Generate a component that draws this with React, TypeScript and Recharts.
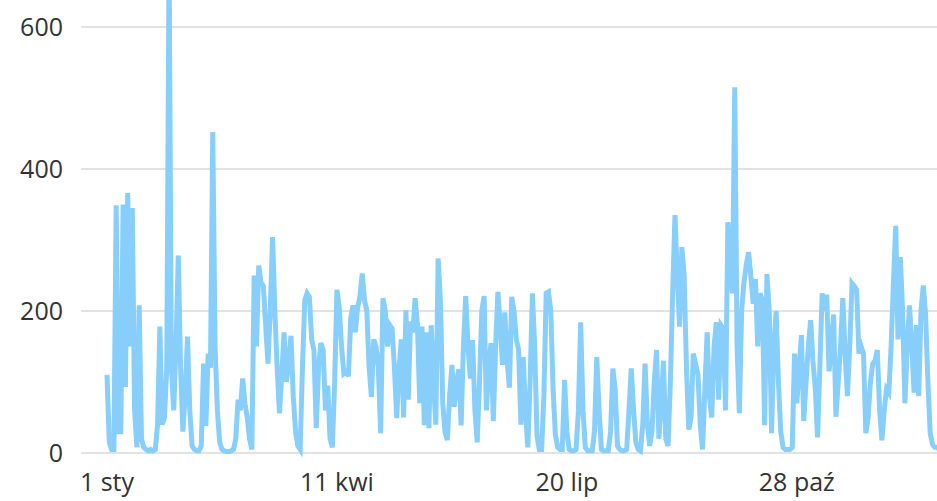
import { CartesianGrid, Line, LineChart, XAxis, YAxis } from "recharts";

const monthNames = ["sty", "lut", "mar", "kwi", "maj", "cze", "lip", "sie", "wrz", "paź", "lis", "gru"];
const monthDays = [31, 28, 31, 30, 31, 30, 31, 31, 30, 31, 30, 31];
const yTicks = [0, 200, 400, 600];

// daily values, 1 sty .. 31 gru
const values = [
  110, 15, 5, 5, 349, 30, 30, 350, 93, 366, 150, 345, 60, 8, 208, 20, 8, 5, 3, 5,
  3, 5, 40, 178, 40, 50, 120, 700, 120, 60, 150, 278, 120, 30, 80, 164, 60, 10, 5, 3,
  3, 10, 126, 38, 140, 120, 452, 150, 60, 15, 5, 3, 2, 2, 3, 5, 20, 75, 60, 105,
  70, 50, 20, 5, 250, 150, 264, 240, 235, 180, 126, 200, 304, 200, 120, 56, 110, 170, 100, 130,
  165, 80, 30, 10, 5, 120, 215, 225, 220, 160, 145, 35, 120, 155, 145, 60, 95, 20, 8, 100,
  230, 205, 150, 112, 115, 108, 190, 208, 170, 205, 220, 253, 215, 200, 120, 79, 160, 150, 120, 28,
  218, 200, 150, 180, 175, 120, 49, 120, 160, 50, 201, 75, 185, 170, 218, 180, 70, 178, 39, 170,
  35, 180, 100, 40, 274, 215, 70, 30, 18, 80, 124, 65, 100, 118, 39, 150, 221, 150, 105, 159,
  60, 15, 100, 200, 221, 60, 120, 155, 45, 150, 227, 180, 124, 198, 130, 92, 220, 200, 160, 145,
  40, 135, 60, 8, 100, 225, 150, 25, 5, 5, 80, 225, 227, 200, 90, 25, 8, 5, 5, 103,
  30, 5, 3, 3, 5, 60, 184, 60, 8, 3, 3, 3, 30, 135, 60, 5, 3, 3, 3, 30,
  119, 90, 10, 5, 3, 3, 5, 60, 119, 60, 15, 5, 3, 40, 126, 40, 10, 30, 100, 145,
  20, 70, 130, 20, 10, 100, 225, 335, 250, 178, 290, 250, 120, 33, 50, 140, 125, 110, 40, 5,
  90, 170, 80, 50, 150, 184, 75, 180, 175, 60, 325, 280, 225, 515, 150, 56, 200, 240, 265, 283,
  250, 210, 245, 150, 225, 215, 39, 252, 200, 28, 150, 200, 100, 30, 8, 5, 5, 5, 8, 140,
  70, 120, 166, 45, 100, 150, 187, 130, 92, 22, 120, 225, 200, 223, 115, 150, 195, 51, 100, 150,
  218, 140, 80, 150, 239, 235, 230, 140, 150, 140, 28, 50, 100, 125, 130, 145, 60, 18, 60, 90,
  85, 150, 239, 320, 160, 276, 200, 70, 150, 208, 150, 85, 180, 80, 200, 236, 195, 100, 28, 12,
  8, 8, 5, 5, 5,
];

const dayLabels: string[] = [];
monthDays.forEach((n, m) => {
  for (let d = 1; d <= n; d++) dayLabels.push(`${d} ${monthNames[m]}`);
});

const data = values.map((v, i) => ({ day: dayLabels[i], value: v }));

export default function App() {
  const font = { fontFamily: "'Open Sans', sans-serif", fontSize: 25, fill: "#333" };
  return (
    <div style={{ position: "fixed", left: 0, top: 0, width: 937, height: 501, overflow: "hidden", background: "#fff" }}>
      <div style={{ position: "absolute", left: 0, top: -115 }}>
        <LineChart width={944} height={616} data={data} margin={{ top: 0, right: 0, bottom: 0, left: 0 }}>
          <CartesianGrid vertical={false} stroke="#e2e2e2" strokeWidth={2} />
          <XAxis
            dataKey="day"
            interval={99}
            axisLine={false}
            tickLine={false}
            tickSize={0}
            tickMargin={20}
            height={48}
            padding={{ left: 26, right: 0 }}
            tick={font}
          />
          <YAxis
            domain={[0, 800]}
            ticks={yTicks}
            width={81}
            axisLine={false}
            tickLine={false}
            tickSize={0}
            tickMargin={18}
            tick={font}
          />
          <Line
            type="linear"
            dataKey="value"
            stroke="#87cefa"
            strokeWidth={5}
            dot={false}
            isAnimationActive={false}
          />
        </LineChart>
      </div>
    </div>
  );
}
